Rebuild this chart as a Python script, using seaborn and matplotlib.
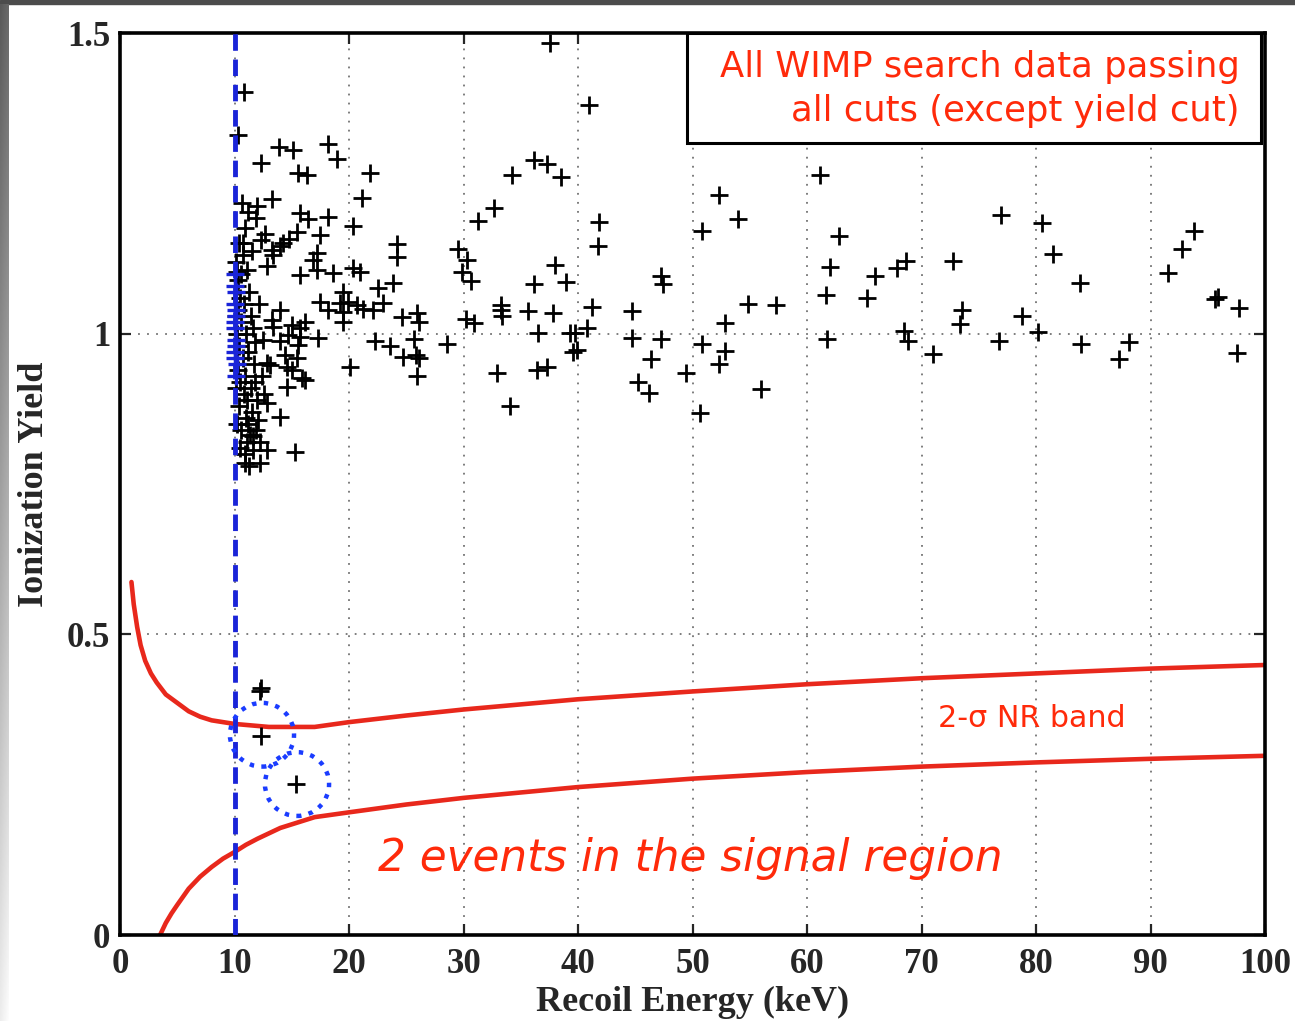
import numpy as np
import pandas as pd
import matplotlib
matplotlib.use("Agg")
import matplotlib.pyplot as plt
import seaborn as sns
from matplotlib.patches import Ellipse, Rectangle

# ---- WIMP search events passing all cuts (recoil energy keV, ionization yield)
event_energy = [
    37.55, 10.83, 10.30, 40.96, 13.89, 15.11, 18.17, 18.95, 12.31, 15.55,
    16.33, 21.83, 21.14, 13.28, 34.24, 36.16, 37.29, 38.52, 32.66, 31.27,
    41.83, 41.75, 52.31, 53.97, 50.83, 61.14, 62.79, 62.01, 61.66, 65.94,
    67.86, 68.65, 72.75, 65.24, 73.54, 73.36, 54.85, 57.29, 52.84, 50.83,
    52.84, 52.31, 49.43, 55.98, 50.66, 61.75, 68.47, 68.82, 71.00, 76.94,
    80.52, 81.48, 83.84, 78.78, 76.77, 80.17, 83.93, 87.25, 88.12, 93.80,
    92.75, 91.53, 95.63, 95.90, 97.73, 97.55,
    24.19, 24.19, 23.84, 22.97, 24.63, 25.94, 26.11, 23.58, 25.68, 24.72,
    25.85, 26.11, 25.94, 28.56, 29.52, 30.31, 29.87, 30.66, 30.22, 30.92,
    33.28, 33.28, 33.36, 35.63, 37.82, 36.16, 37.99, 38.95, 36.51, 39.30,
    39.74, 40.79, 41.22, 39.56, 39.91, 32.93, 36.42, 37.29, 34.06, 44.72,
    44.72, 47.25, 46.38, 47.25, 47.42, 45.24, 46.20,
    10.66, 11.97, 11.18, 11.88, 15.72, 16.42, 18.17, 20.35, 10.92, 12.66,
    15.46, 17.47, 14.76, 14.24, 12.31, 11.53, 13.28, 13.97, 13.36, 10.74,
    17.21, 16.86, 12.84, 15.72, 17.21, 18.60, 20.35, 20.96, 10.22, 11.09,
    22.53, 19.48, 17.47, 19.21, 19.91, 20.70, 21.22, 22.10, 13.97, 18.17,
    19.48, 19.48, 13.28, 13.36, 15.02, 16.16, 15.72, 14.67, 15.72, 13.97,
    12.49, 17.29, 11.79, 15.55, 14.41, 15.46, 13.10, 12.84, 14.59, 15.02,
    15.90, 16.16, 14.59, 22.27, 20.09, 12.84, 13.97, 15.28, 12.84, 12.23,
    10.92, 11.62, 11.35, 12.05,
    10.20, 10.50, 10.30, 10.60, 10.20, 10.40, 10.70, 10.30, 10.50, 10.80,
    10.40, 11.00, 10.60, 11.10, 10.90, 11.30, 10.80, 11.00, 11.20, 10.90,
    11.40, 11.10, 11.50, 11.20, 11.60, 10.10, 10.30, 10.60, 10.15, 10.25,
    10.10, 10.20, 10.50, 11.70, 11.80, 12.00, 11.90, 12.20, 11.40, 11.60,
    12.10, 11.30, 12.40, 12.60, 10.35, 10.70,
    12.20, 12.30, 12.35, 15.40,
]
event_yield = [
    1.483, 1.402, 1.330, 1.380, 1.310, 1.305, 1.315, 1.290, 1.284, 1.267,
    1.264, 1.267, 1.226, 1.224, 1.264, 1.289, 1.282, 1.261, 1.209, 1.187,
    1.186, 1.146, 1.231, 1.191, 1.171, 1.264, 1.162, 1.111, 1.064, 1.096,
    1.109, 1.121, 1.121, 1.059, 1.039, 1.016, 1.049, 1.048, 1.018, 0.983,
    0.971, 0.950, 0.935, 0.908, 0.868, 0.991, 1.004, 0.988, 0.966, 1.197,
    1.184, 1.133, 1.084, 1.029, 0.988, 1.003, 0.983, 0.958, 0.986, 1.171,
    1.141, 1.101, 1.058, 1.061, 1.043, 0.968,
    1.149, 1.128, 1.084, 1.051, 1.028, 1.034, 1.019, 0.980, 0.991, 0.961,
    0.965, 0.960, 0.930, 0.983, 1.141, 1.123, 1.103, 1.088, 1.024, 1.018,
    1.048, 1.039, 1.029, 1.038, 1.034, 1.083, 1.114, 1.086, 1.001, 1.001,
    1.001, 1.009, 1.044, 0.970, 0.973, 0.935, 0.940, 0.945, 0.880, 1.038,
    0.993, 0.991, 0.958, 1.096, 1.083, 0.920, 0.901,
    1.217, 1.212, 1.202, 1.192, 1.201, 1.191, 1.194, 1.179, 1.176, 1.166,
    1.169, 1.164, 1.157, 1.151, 1.156, 1.138, 1.139, 1.146, 1.131, 1.151,
    1.134, 1.123, 1.113, 1.098, 1.106, 1.101, 1.109, 1.103, 1.103, 1.106,
    1.076, 1.069, 1.053, 1.051, 1.053, 1.048, 1.041, 1.039, 1.039, 1.039,
    1.036, 1.019, 1.023, 1.011, 1.014, 1.019, 1.009, 0.998, 0.995, 0.988,
    0.990, 0.993, 0.986, 0.981, 0.965, 0.960, 0.948, 0.951, 0.945, 0.940,
    0.927, 0.923, 0.911, 0.988, 0.945, 0.885, 0.861, 0.803, 0.807, 0.785,
    0.785, 0.807, 0.832, 0.856,
    1.080, 1.060, 1.040, 1.020, 1.000, 0.980, 0.960, 0.940, 0.920, 0.900,
    0.880, 0.860, 0.840, 0.820, 0.800, 0.780, 1.050, 1.000, 0.970, 0.930,
    0.910, 0.890, 0.870, 0.850, 0.830, 1.120, 1.090, 1.100, 1.030, 0.970,
    0.910, 0.850, 0.810, 0.950, 0.920, 0.890, 0.840, 0.820, 1.030, 1.010,
    1.050, 1.070, 0.930, 0.900, 1.150, 1.130,
    0.405, 0.410, 0.331, 0.251,
]

# events sitting right at the 10 keV analysis threshold
threshold_energy = [10.05, 10.10, 10.00, 10.15, 10.05, 10.10, 10.00, 10.20,
                    10.05, 10.10, 10.00, 10.15, 10.05, 10.10]
threshold_yield = [1.10, 1.07, 1.05, 1.03, 1.01, 0.99, 0.97, 0.95,
                   1.08, 1.04, 1.02, 0.98, 0.96, 0.93]

# 2-sigma nuclear-recoil band edges
nr_upper_energy = [1.0, 1.2, 1.5, 1.8, 2.2, 2.7, 3.2, 4.0, 5.0, 6.0, 7.0,
                   8.0, 10.0, 13.0, 17.0, 20.0, 25.0, 30.0, 40.0, 50.0, 60.0,
                   70.0, 80.0, 90.0, 100.0]
nr_upper_yield = [0.587, 0.550, 0.512, 0.482, 0.456, 0.435, 0.420, 0.400,
                  0.386, 0.372, 0.363, 0.357, 0.351, 0.346, 0.346, 0.354,
                  0.365, 0.375, 0.392, 0.405, 0.417, 0.427, 0.435, 0.443,
                  0.449]
nr_lower_energy = [3.5, 4.0, 4.5, 5.0, 6.0, 7.0, 8.0, 9.0, 10.0, 11.0, 12.0,
                   14.0, 16.0, 17.0, 20.0, 25.0, 30.0, 40.0, 50.0, 60.0, 70.0,
                   80.0, 90.0, 100.0]
nr_lower_yield = [0.000, 0.020, 0.036, 0.050, 0.077, 0.097, 0.113, 0.127,
                  0.138, 0.150, 0.160, 0.178, 0.190, 0.196, 0.204, 0.217,
                  0.228, 0.246, 0.260, 0.271, 0.280, 0.287, 0.293, 0.298]

# candidate events in the signal region (circled)
candidate_energy = [12.4, 15.46]
candidate_yield = [0.333, 0.251]

x_ticks = [0, 10, 20, 30, 40, 50, 60, 70, 80, 90, 100]
y_ticks = [0, 0.5, 1, 1.5]
y_tick_labels = ["0", "0.5", "1", "1.5"]

RED_TEXT = "#ff2a0a"
RED_LINE = "#e8281c"
BLUE = "#1a24d8"

sns.set_style("ticks")
plt.rcParams["font.family"] = ["Liberation Serif", "DejaVu Serif"]

fig = plt.figure(figsize=(12.95, 10.21), dpi=100)
W, H = 1295.0, 1021.0

# slide frame: dark strip on top, shaded strip on the left
fig.add_artist(Rectangle((0, 1 - 4 / H), 1, 4 / H, transform=fig.transFigure,
                         color="#4c4c4c", zorder=0))
side = fig.add_axes([0, 0, 9 / W, 1 - 4 / H])
grad = np.linspace(0.35, 0.93, 256)[:, None] * np.ones((1, 8))
grad = grad + np.linspace(0, 0.06, 8)[None, :]
side.imshow(grad, aspect="auto", cmap="gray", vmin=0, vmax=1)
side.axis("off")

ax = fig.add_axes([120 / W, 86 / H, 1145 / W, 902 / H])

events = pd.DataFrame({"energy": event_energy, "yield": event_yield})
sns.scatterplot(data=events, x="energy", y="yield", marker="+", color="black",
                s=150, linewidth=2.0, ax=ax, zorder=3, legend=False)
sns.scatterplot(x=threshold_energy, y=threshold_yield, marker="+", color=BLUE,
                s=150, linewidth=2.4, ax=ax, zorder=4, legend=False)

sns.lineplot(x=nr_upper_energy, y=nr_upper_yield, color=RED_LINE, linewidth=3.3,
             ax=ax, estimator=None, sort=False, zorder=2)
sns.lineplot(x=nr_lower_energy, y=nr_lower_yield, color=RED_LINE, linewidth=3.3,
             ax=ax, estimator=None, sort=False, zorder=2)

ax.axvline(10, color=BLUE, linewidth=3.5, dashes=(3.4, 1.8), zorder=5)

for cx, cy in zip(candidate_energy, candidate_yield):
    ax.add_patch(Ellipse((cx, cy), width=5.6, height=0.106, fill=False,
                         edgecolor="#1a3cff", linestyle=":", linewidth=3.2,
                         zorder=6))

ax.set_xlim(0, 100)
ax.set_ylim(0, 1.5)
ax.set_xticks(x_ticks)
ax.set_yticks(y_ticks)
ax.set_yticklabels(y_tick_labels)
ax.grid(True, linestyle=(0, (1, 4)), color="0.45", linewidth=1.3)
ax.tick_params(direction="in", top=True, right=True, length=8, width=1.6,
               labelsize=25, pad=9)
ax.tick_params(axis="y", pad=7)
for lab in ax.get_xticklabels() + ax.get_yticklabels():
    lab.set_fontweight("bold")
for sp in ax.spines.values():
    sp.set_visible(True)
    sp.set_linewidth(2.6)
    sp.set_color("black")

ax.set_xlabel("Recoil Energy (keV)", fontsize=26, fontweight="bold")
ax.set_ylabel("Ionization Yield", fontsize=26, fontweight="bold")
ax.xaxis.set_label_coords(0.5, -0.057)
ax.yaxis.set_label_coords(-0.060, 0.5)

# annotation box in the top-right corner
ax.add_patch(Rectangle((0.495, 0.878), 0.5015, 0.122, transform=ax.transAxes,
                       facecolor="white", edgecolor="black", linewidth=2.2,
                       zorder=7))
ax.text(0.978, 0.938, "All WIMP search data passing\nall cuts (except yield cut)",
        transform=ax.transAxes, ha="right", va="center", multialignment="right",
        color=RED_TEXT, fontsize=25.5, family="DejaVu Sans", linespacing=1.35,
        zorder=8)

ax.text(71.4, 0.36, "2-\u03c3 NR band", color=RED_TEXT, fontsize=21.7,
        family="DejaVu Sans", va="center", ha="left", zorder=8)
ax.text(22.5, 0.128, "2 events in the signal region", color=RED_TEXT,
        fontsize=31.5, family="DejaVu Sans", style="italic", va="center",
        ha="left", zorder=8)

fig.savefig("out.png", dpi=100, facecolor="white")
